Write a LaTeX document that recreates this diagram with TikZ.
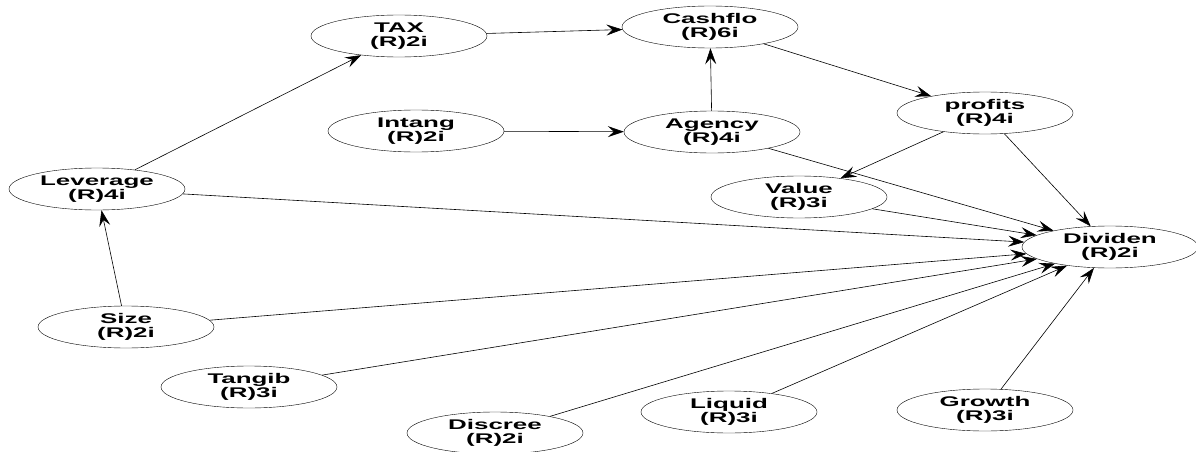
\documentclass[tikz,border=0pt]{standalone}
\usepackage{fontspec}
\setmainfont{Liberation Sans}
\newfontfamily\widesans[FakeStretch=1.85]{Liberation Sans}
\usetikzlibrary{arrows.meta,shapes.geometric}
\begin{document}
\begin{tikzpicture}[x=1pt, y=-1pt,
    latent/.style={draw, ellipse, minimum width=176pt, minimum height=42pt, inner sep=0pt,
        align=center, font=\widesans\fontsize{14}{14}\selectfont\bfseries},
    link/.style={-{Stealth[length=16pt, width=11pt, inset=6pt]}, line width=0.6pt}]
    \useasboundingbox (0,0) rectangle (1196,452);

    % Top row
    \node[latent] (tax) at (399, 36) {TAX\\(R)2i};
    \node[latent] (cashflo) at (710, 27) {Cashflo\\(R)6i};
    \node[latent] (intang) at (416, 131) {Intang\\(R)2i};
    \node[latent] (agency) at (712, 132) {Agency\\(R)4i};
    \node[latent] (profits) at (985, 113) {profits\\(R)4i};

    % Middle
    \node[latent] (leverage) at (97, 189) {Leverage\\(R)4i};
    \node[latent] (value) at (799, 197) {Value\\(R)3i};
    \node[latent] (dividen) at (1110, 247) {Dividen\\(R)2i};

    % Bottom row
    \node[latent] (size) at (126, 327) {Size\\(R)2i};
    \node[latent] (tangib) at (249, 387) {Tangib\\(R)3i};
    \node[latent] (discree) at (495, 433) {Discree\\(R)2i};
    \node[latent] (liquid) at (729, 412) {Liquid\\(R)3i};
    \node[latent] (growth) at (985, 410) {Growth\\(R)3i};

    % Paths
    \draw[link] (leverage) -- (tax);
    \draw[link] (tax) -- (cashflo);
    \draw[link] (intang) -- (agency);
    \draw[link] (agency) -- (cashflo);
    \draw[link] (cashflo) -- (profits);
    \draw[link] (profits) -- (value);
    \draw[link] (size) -- (leverage);
    \foreach \src in {profits, agency, value, leverage, size, tangib, discree, liquid, growth}
        \draw[link] (\src) -- (dividen);
\end{tikzpicture}
\end{document}
